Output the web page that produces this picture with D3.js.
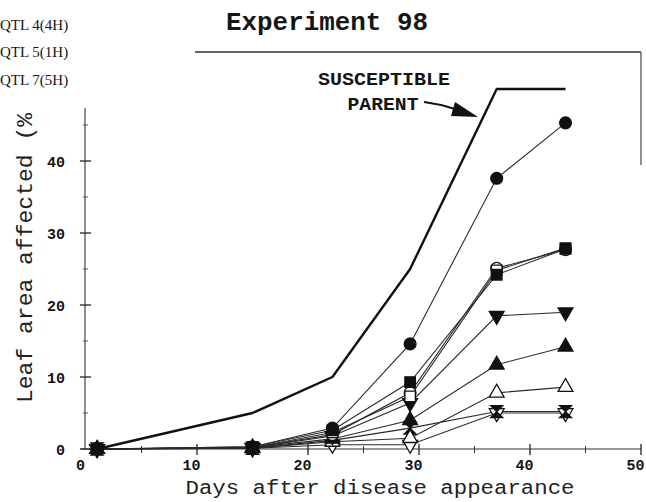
<!DOCTYPE html>
<html>
<head>
<meta charset="utf-8">
<script src="https://cdn.jsdelivr.net/npm/d3@7"></script>
<style>
  html, body { margin: 0; padding: 0; background: #fff; }
  svg { display: block; }
</style>
</head>
<body>
<svg id="chart" width="646" height="502"></svg>
<script>
// ---- data ----
const days = [1, 15, 22.2, 29.2, 37, 43.2];
const parentValues = [0, 5, 10, 25, 50, 50];
const filledCircle = [0, 0.3, 2.9, 14.6, 37.6, 45.3];
const filledSquare = [0, 0.3, 2.6, 9.3, 24.2, 27.8];
const openSquare = [0, 0.2, 2.3, 7.3, 24.8, 27.9];
const openCircle = [0, 0.2, 2.0, 7.8, 25.1, 27.7];
const filledTriDown = [0, 0.2, 1.8, 6.4, 18.5, 19.0];
const filledTri = [0, 0.2, 1.4, 4.0, 11.7, 14.2];
const openTri = [0, 0.1, 1.0, 1.5, 7.8, 8.6];
const hourglass = [0, 0.1, 1.2, 2.9, 5.2, 5.2];
const openTriDown = [0, 0.1, 0.6, 0.6, 5.0, 5.0];
const xTicks = [0, 10, 20, 30, 40, 50];
const yTicks = [0, 10, 20, 30, 40];
const xMinor = [5, 15, 25, 35, 45];
const yMinor = [5, 15, 25, 35, 45];
const qtlLabels = ["QTL 4(4H)", "QTL 5(1H)", "QTL 7(5H)"];
const title = "Experiment 98";
const xTitle = "Days after disease appearance";
const yTitle = "Leaf area affected (%";

const series = [
  { values: openTriDown, shape: "triDown", fill: "#fff" },
  { values: hourglass, shape: "hourglass", fill: "#111" },
  { values: openTri, shape: "tri", fill: "#fff" },
  { values: filledTri, shape: "tri", fill: "#111" },
  { values: filledTriDown, shape: "triDown", fill: "#111" },
  { values: openCircle, shape: "circle", fill: "#fff" },
  { values: openSquare, shape: "square", fill: "#fff" },
  { values: filledCircle, shape: "circle", fill: "#111" },
  { values: filledSquare, shape: "square", fill: "#111" }
];

// ---- layout ----
const svg = d3.select("#chart");
const x = d3.scaleLinear().domain([0, 50]).range([86, 641]);
const y = d3.scaleLinear().domain([0, 50]).range([449, 89]);
const ink = "#151515";
const mono = "'Liberation Mono', 'DejaVu Sans Mono', monospace";

// QTL labels
svg.selectAll("text.qtl").data(qtlLabels).join("text")
  .attr("class", "qtl")
  .attr("x", 0).attr("y", (d, i) => [30, 57, 85][i])
  .attr("font-family", "'Liberation Serif', serif")
  .attr("font-size", 15).attr("fill", ink)
  .text(d => d);

// Title
svg.append("text").attr("x", 327).attr("y", 30)
  .attr("text-anchor", "middle").attr("font-family", mono)
  .attr("font-weight", "bold").attr("font-size", 25)
  .attr("textLength", 202).attr("lengthAdjust", "spacingAndGlyphs")
  .attr("fill", ink).text(title);

// Frame (top and right)
svg.append("line").attr("x1", 195).attr("x2", 641).attr("y1", 52).attr("y2", 52)
  .attr("stroke", "#333").attr("stroke-width", 1.6);
svg.append("line").attr("x1", 641).attr("x2", 641).attr("y1", 52).attr("y2", 165)
  .attr("stroke", "#555").attr("stroke-width", 1.3);

// Axes
const xAxis = d3.axisBottom(x).tickValues(xTicks).tickSize(0).tickFormat(d3.format("d"));
const gx = svg.append("g").attr("transform", `translate(0,${y(0)})`).call(xAxis);
gx.select(".domain").remove();
gx.selectAll("text").attr("font-family", mono).attr("font-weight", "bold")
  .attr("font-size", 15).attr("fill", ink).attr("dx", -6).attr("dy", 18);
svg.append("line").attr("x1", 81).attr("x2", 641).attr("y1", y(0)).attr("y2", y(0))
  .attr("stroke", "#333").attr("stroke-width", 1.2);
svg.selectAll("line.xmaj").data(xTicks.slice(1)).join("line").attr("class", "xmaj")
  .attr("x1", d => x(d)).attr("x2", d => x(d)).attr("y1", y(0) - 5).attr("y2", y(0) + 6)
  .attr("stroke", "#222").attr("stroke-width", 1.3);
svg.selectAll("line.xmin").data(xMinor).join("line").attr("class", "xmin")
  .attr("x1", d => x(d)).attr("x2", d => x(d)).attr("y1", y(0) - 3).attr("y2", y(0) + 4)
  .attr("stroke", "#333").attr("stroke-width", 1);

const yAxis = d3.axisLeft(y).tickValues(yTicks).tickSize(0).tickFormat(d3.format("d"));
const gy = svg.append("g").attr("transform", `translate(85,0)`).call(yAxis);
gy.select(".domain").remove();
gy.selectAll("text").attr("font-family", mono).attr("font-weight", "bold")
  .attr("font-size", 15).attr("fill", ink).attr("dx", -17).attr("dy", "0.36em");
svg.append("line").attr("x1", 85).attr("x2", 85).attr("y1", 108).attr("y2", y(0))
  .attr("stroke", "#444").attr("stroke-width", 1.2);
svg.selectAll("line.ymaj").data(yTicks).join("line").attr("class", "ymaj")
  .attr("x1", 80).attr("x2", 91).attr("y1", d => y(d)).attr("y2", d => y(d))
  .attr("stroke", "#222").attr("stroke-width", 1.3);
svg.selectAll("line.ymin").data(yMinor).join("line").attr("class", "ymin")
  .attr("x1", 83).attr("x2", 88).attr("y1", d => y(d)).attr("y2", d => y(d))
  .attr("stroke", "#555").attr("stroke-width", 1);

// Axis titles
svg.append("text").attr("x", 380).attr("y", 494)
  .attr("text-anchor", "middle").attr("font-family", mono)
  .attr("font-size", 20).attr("textLength", 389).attr("lengthAdjust", "spacingAndGlyphs")
  .attr("fill", "#222").text(xTitle);
svg.append("text").attr("transform", "translate(32,258) rotate(-90)")
  .attr("text-anchor", "middle").attr("font-family", mono)
  .attr("font-size", 22).attr("textLength", 290).attr("lengthAdjust", "spacingAndGlyphs")
  .attr("fill", "#222").text(yTitle);

// Lines
const line = d3.line().x((d, i) => x(days[i])).y(d => y(d));
series.forEach(s => {
  svg.append("path").attr("d", line(s.values)).attr("fill", "none")
    .attr("stroke", "#2a2a2a").attr("stroke-width", 1.1);
});
svg.append("path").attr("d", line(parentValues)).attr("fill", "none")
  .attr("stroke", "#111").attr("stroke-width", 2.4).attr("stroke-linejoin", "round");

// Markers
function markerPath(shape) {
  if (shape === "circle") return d3.symbol(d3.symbolCircle, 110)();
  if (shape === "square") return d3.symbol(d3.symbolSquare, 110)();
  if (shape === "tri" || shape === "triDown") return d3.symbol(d3.symbolTriangle, 95)();
  if (shape === "hourglass") return "M-6,-6L6,-6L0,0ZM-6,6L6,6L0,0Z";
}
series.forEach(s => {
  svg.append("g").selectAll("path").data(s.values).join("path")
    .attr("d", markerPath(s.shape))
    .attr("transform", (d, i) => `translate(${x(days[i])},${y(d)})${s.shape === "triDown" ? " rotate(180)" : ""}`)
    .attr("fill", s.fill).attr("stroke", "#111").attr("stroke-width", 1.3);
});

// Annotation
svg.append("text").attr("x", 384).attr("y", 85).attr("text-anchor", "middle")
  .attr("font-family", mono).attr("font-weight", "bold").attr("font-size", 18)
  .attr("textLength", 132).attr("lengthAdjust", "spacingAndGlyphs")
  .attr("fill", ink).text("SUSCEPTIBLE");
svg.append("text").attr("x", 383).attr("y", 110).attr("text-anchor", "middle")
  .attr("font-family", mono).attr("font-weight", "bold").attr("font-size", 18)
  .attr("textLength", 71).attr("lengthAdjust", "spacingAndGlyphs")
  .attr("fill", ink).text("PARENT");
svg.append("path").attr("d", "M424,102 Q440,104 455,109")
  .attr("fill", "none").attr("stroke", "#111").attr("stroke-width", 2);
svg.append("path").attr("d", "M478,117 L451,116 L455,102 Z").attr("fill", "#111");
</script>
</body>
</html>
